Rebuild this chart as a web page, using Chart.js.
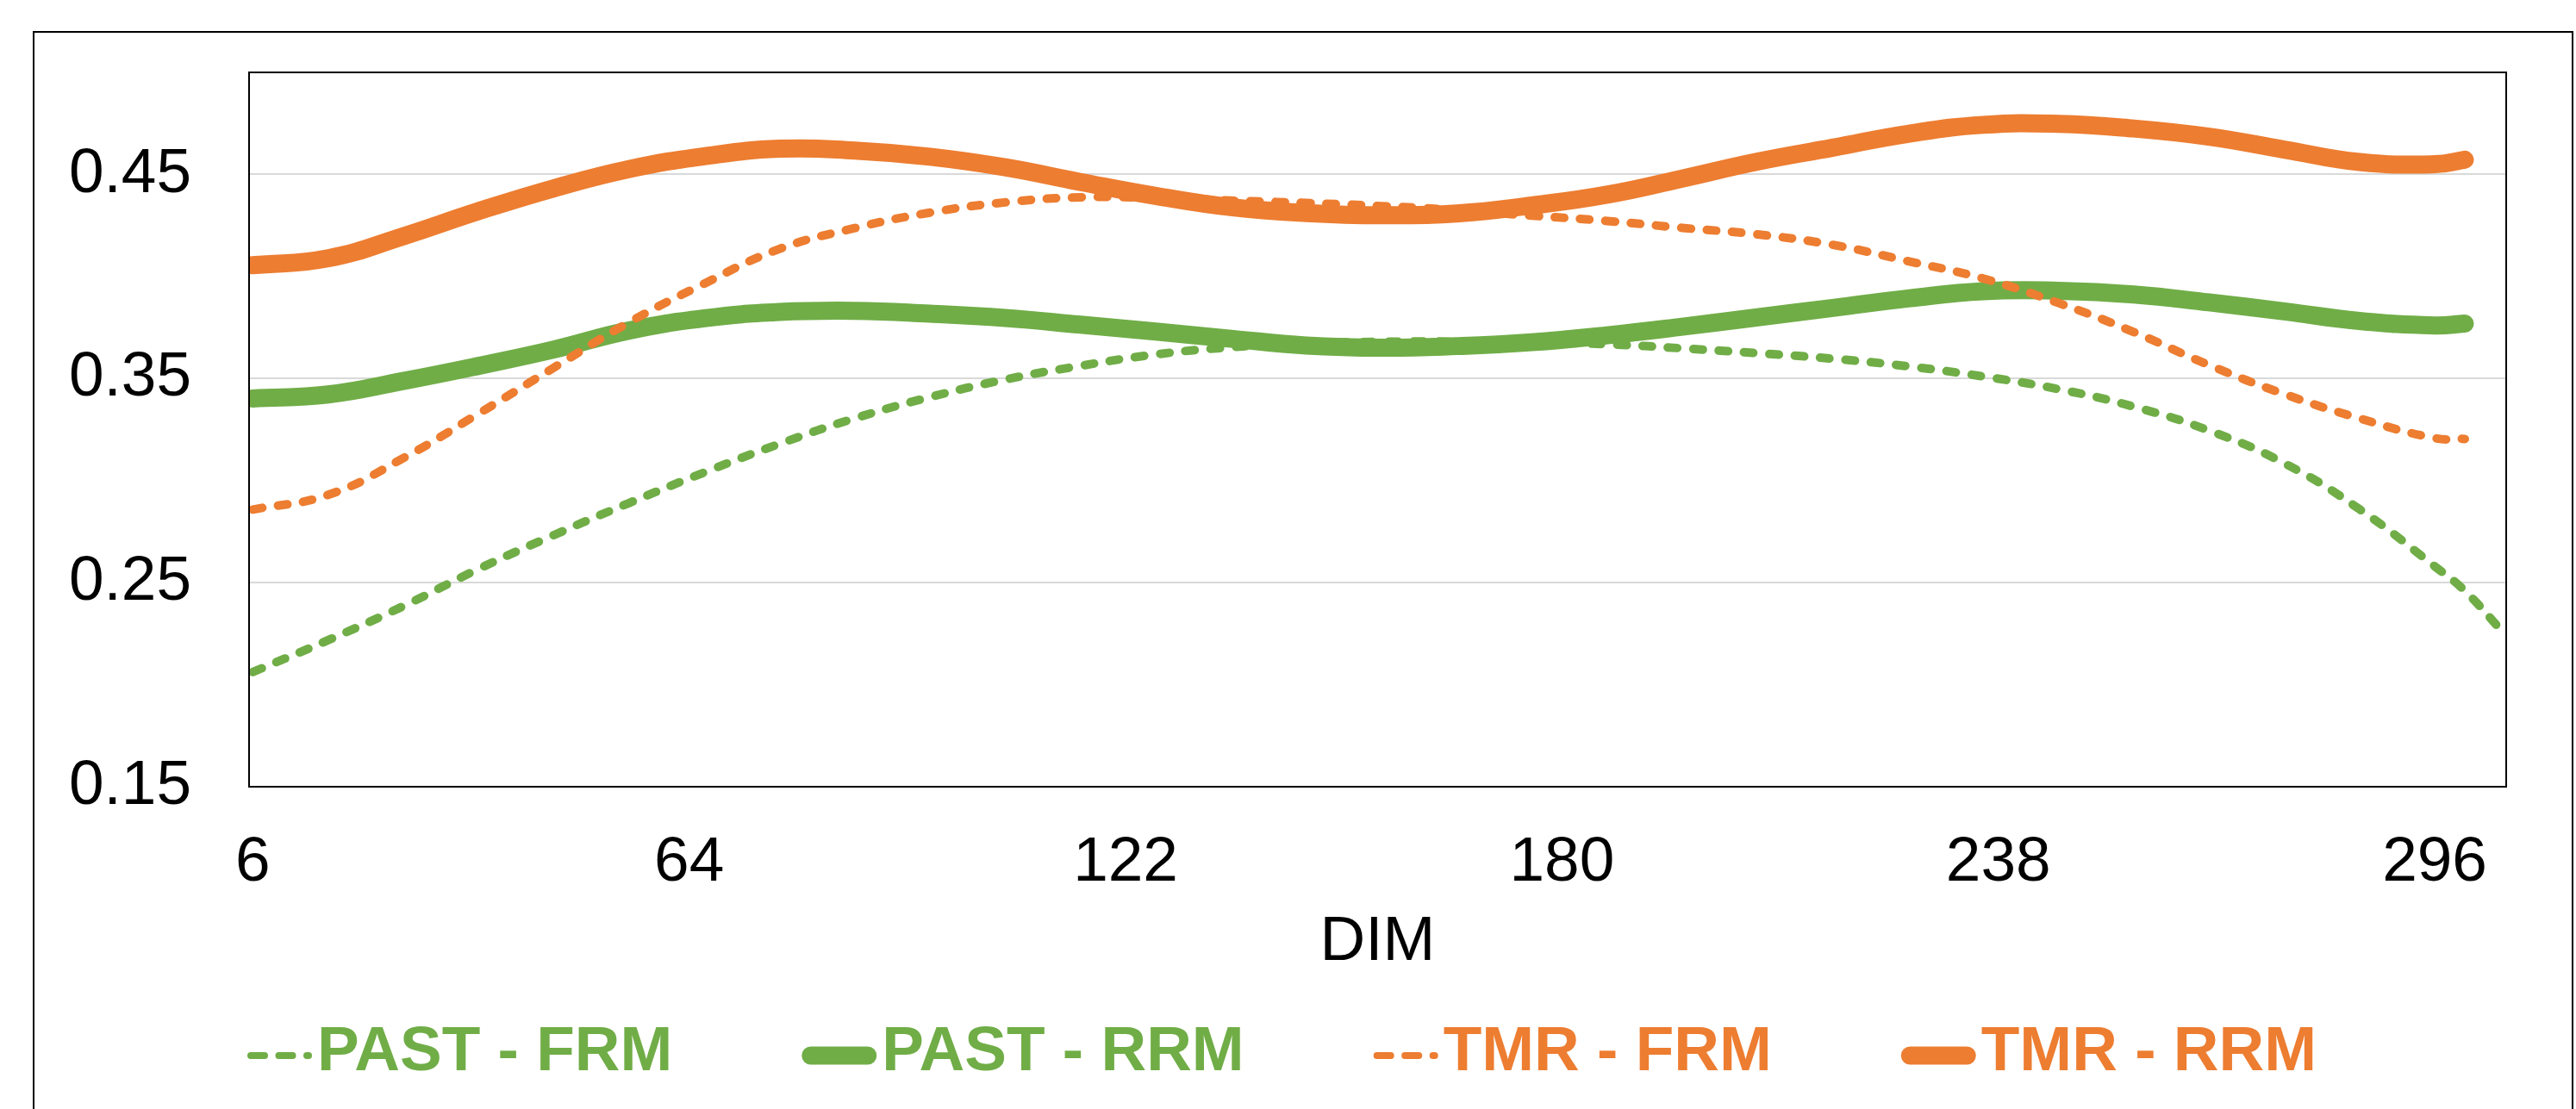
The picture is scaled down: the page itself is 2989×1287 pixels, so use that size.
<!DOCTYPE html>
<html>
<head>
<meta charset="utf-8">
<title>DIM</title>
<script src="https://cdn.jsdelivr.net/npm/chart.js@4.4.1/dist/chart.umd.min.js"></script>
<style>
  html, body { margin: 0; padding: 0; background: #ffffff; overflow: hidden; }
  #c { display: block; }
</style>
</head>
<body>
<canvas id="c" width="2989" height="1287"></canvas>
<script>
// Embedding dimension (x) and the four score curves (y)
const dims = [6, 16, 26, 36, 46, 56, 66, 76, 86, 96, 106, 116, 126, 136, 146, 156,
              166, 176, 186, 196, 206, 216, 226, 236, 246, 256, 266, 276, 286, 296, 300, 305];

const pastFrm = [0.2062, 0.2218, 0.2385, 0.2567, 0.2733, 0.2890, 0.3040, 0.3180, 0.3305, 0.3409,
                 0.3495, 0.3562, 0.3618, 0.3653, 0.3672, 0.3680, 0.3681, 0.3677, 0.3668, 0.3648,
                 0.3624, 0.3597, 0.3560, 0.3510, 0.3448, 0.3362, 0.3245, 0.3085, 0.2860, 0.2580,
                 0.2460, 0.2260];

const pastRrm = [0.3402, 0.3422, 0.3488, 0.3562, 0.3642, 0.3735, 0.3795, 0.3826, 0.3832, 0.3818,
                 0.3797, 0.3764, 0.3730, 0.3695, 0.3662, 0.3651, 0.3659, 0.3678, 0.3712, 0.3754,
                 0.3800, 0.3846, 0.3892, 0.3928, 0.3930, 0.3912, 0.3873, 0.3829, 0.3782, 0.3760,
                 0.3769, null];

const tmrFrm = [0.2858, 0.2930, 0.3110, 0.3328, 0.3553, 0.3775, 0.3965, 0.4135, 0.4237, 0.4313,
                0.4363, 0.4388, 0.4385, 0.4372, 0.4360, 0.4345, 0.4325, 0.4298, 0.4272, 0.4238,
                0.4206, 0.4155, 0.4075, 0.3990, 0.3870, 0.3728, 0.3566, 0.3424, 0.3305, 0.3208,
                0.3204, null];

const tmrRrm = [0.4055, 0.4089, 0.4197, 0.4320, 0.4432, 0.4526, 0.4589, 0.4626, 0.4617, 0.4587,
                0.4535, 0.4463, 0.4395, 0.4340, 0.4311, 0.4300, 0.4309, 0.4348, 0.4401, 0.4480,
                0.4563, 0.4631, 0.4699, 0.4743, 0.4748, 0.4725, 0.4685, 0.4622, 0.4561, 0.4550,
                0.4572, null];

const seriesNames = ['PAST - FRM', 'PAST - RRM', 'TMR - FRM', 'TMR - RRM'];
const xTickValues = [6, 64, 122, 180, 238, 296];
const yTickValues = [0.15, 0.25, 0.35, 0.45];

const GREEN = '#70AD47';
const ORANGE = '#ED7D31';
const FONT = '"Liberation Sans", Arial, sans-serif';

const toPoints = arr => dims.map((d, i) => ({ x: d, y: arr[i] }));

function lineSet(label, values, color, dashed, order) {
  return {
    label: label,
    data: toPoints(values),
    borderColor: color,
    backgroundColor: color,
    borderWidth: dashed ? 10 : 21,
    borderDash: dashed ? [11, 18.5] : [],
    borderCapStyle: 'round',
    borderJoinStyle: 'round',
    tension: 0.45,
    pointRadius: 0,
    pointHoverRadius: 0,
    fill: false,
    clip: 0,
    order: order
  };
}

// white page, outer frame of the figure, frame around the plot area
const framePlugin = {
  id: 'frame',
  beforeDraw(chart) {
    const ctx = chart.ctx;
    ctx.save();
    ctx.fillStyle = '#ffffff';
    ctx.fillRect(0, 0, chart.width, chart.height);
    ctx.strokeStyle = '#000000';
    ctx.lineWidth = 2;
    ctx.strokeRect(39, 37, 2946, 1400);
    ctx.restore();
  },
  afterDatasetsDraw(chart) {
    const a = chart.chartArea;
    const ctx = chart.ctx;
    ctx.save();
    ctx.strokeStyle = '#000000';
    ctx.lineWidth = 2;
    ctx.strokeRect(a.left, a.top, a.right - a.left, a.bottom - a.top);
    ctx.restore();
  }
};

// one-row legend below the axis title, text coloured like its series
const legendRow = {
  id: 'legendRow',
  afterDraw(chart, args, opts) {
    const ctx = chart.ctx;
    ctx.save();
    ctx.font = 'bold 73px ' + FONT;
    ctx.textBaseline = 'middle';
    ctx.textAlign = 'left';
    let x = opts.left;
    const y = opts.y;
    chart.data.datasets.forEach(ds => {
      const dashed = ds.borderDash && ds.borderDash.length > 0;
      const w = dashed ? 75 : 87;
      const lw = dashed ? 8 : ds.borderWidth;
      ctx.strokeStyle = ds.borderColor;
      ctx.lineWidth = lw;
      ctx.lineCap = 'round';
      ctx.setLineDash(dashed ? [16, 16.5] : []);
      ctx.beginPath();
      ctx.moveTo(x + lw / 2, y + 3);
      ctx.lineTo(x + w - lw / 2, y + 3);
      ctx.stroke();
      ctx.setLineDash([]);
      x += w + 6;
      ctx.fillStyle = ds.borderColor;
      ctx.fillText(ds.label, x, y);
      x += ctx.measureText(ds.label).width + 150;
    });
    ctx.restore();
  }
};

new Chart(document.getElementById('c'), {
  type: 'line',
  data: {
    datasets: [
      lineSet(seriesNames[0], pastFrm, GREEN, true, 4),
      lineSet(seriesNames[1], pastRrm, GREEN, false, 3),
      lineSet(seriesNames[2], tmrFrm, ORANGE, true, 2),
      lineSet(seriesNames[3], tmrRrm, ORANGE, false, 1)
    ]
  },
  options: {
    responsive: false,
    devicePixelRatio: 1,
    animation: false,
    events: [],
    layout: { padding: { left: 0, top: 84, right: 81, bottom: 149 } },
    plugins: {
      legend: { display: false },
      tooltip: { enabled: false },
      legendRow: { left: 287, y: 1222 }
    },
    scales: {
      x: {
        type: 'linear',
        min: 5.5,
        max: 305.5,
        afterBuildTicks: scale => { scale.ticks = xTickValues.map(v => ({ value: v })); },
        afterFit: scale => {
          scale.height = 225;
          scale.paddingLeft = 0;
          scale.paddingRight = 0;
        },
        grid: { display: false, drawTicks: false },
        border: { display: false },
        ticks: {
          padding: 45,
          maxRotation: 0,
          autoSkip: false,
          color: '#000000',
          font: { family: FONT, size: 73 },
          callback: v => String(v)
        },
        title: {
          display: true,
          text: 'DIM',
          color: '#000000',
          font: { family: FONT, size: 73 },
          padding: { top: 0, bottom: 0 }
        }
      },
      y: {
        min: 0.15,
        max: 0.50,
        afterBuildTicks: scale => { scale.ticks = yTickValues.map(v => ({ value: v })); },
        afterFit: scale => {
          scale.width = 289;
          scale.paddingTop = 0;
          scale.paddingBottom = 0;
        },
        grid: {
          drawTicks: false,
          lineWidth: 2,
          color: ctx => (ctx.tick && ctx.tick.value === 0.15) ? 'rgba(0,0,0,0)' : '#d9d9d9'
        },
        border: { display: false },
        ticks: {
          padding: 67,
          color: '#000000',
          font: { family: FONT, size: 73 },
          callback: v => Number(v).toFixed(2)
        }
      }
    }
  },
  plugins: [framePlugin, legendRow]
});
</script>
</body>
</html>
